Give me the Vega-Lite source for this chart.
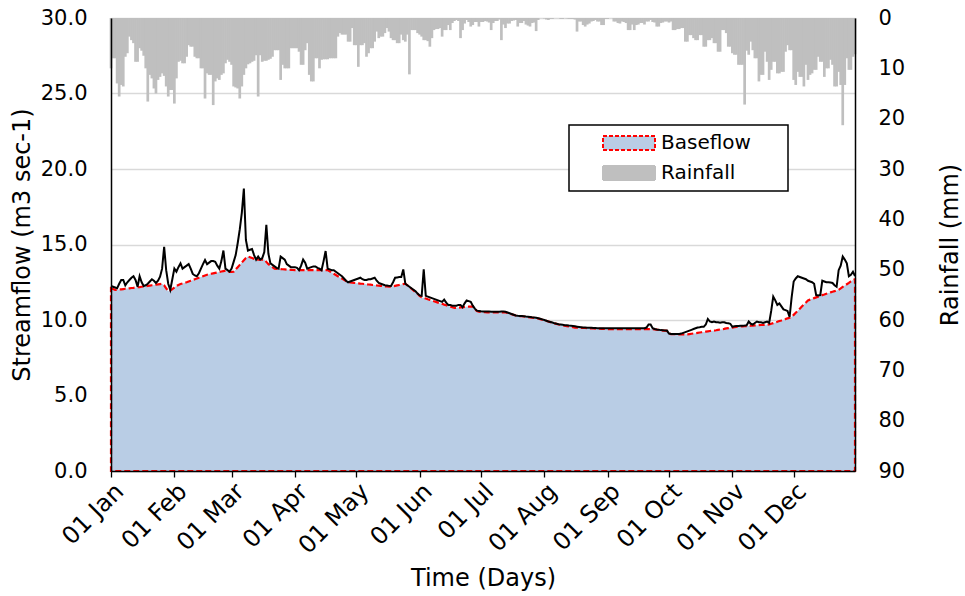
{
"$schema": "https://vega.github.io/schema/vega-lite/v6.json",
"width": 744, "height": 453,
"autosize": "none",
"padding": {"left": 111, "top": 18, "right": 110, "bottom": 125},
"config": {"font": "DejaVu Sans", "view": {"stroke": "#8c8c8c", "strokeWidth": 1}},
"data": {"values": [
{"d":"2001/01/01","q":12.25,"b":12.1,"r":10},{"d":"2001/01/02","q":12.2,"b":12.05,"r":8},{"d":"2001/01/03","q":12.15,"b":12.0,"r":8},{"d":"2001/01/04","q":12.1,"b":12.0,"r":13},{"d":"2001/01/05","q":12.4,"b":12.02,"r":15.6},{"d":"2001/01/06","q":12.65,"b":12.03,"r":13.3},{"d":"2001/01/07","q":12.65,"b":12.05,"r":13.6},{"d":"2001/01/08","q":12.3,"b":12.07,"r":7.7},{"d":"2001/01/09","q":12.5,"b":12.08,"r":7},{"d":"2001/01/10","q":12.65,"b":12.1,"r":3.7},{"d":"2001/01/11","q":12.8,"b":12.12,"r":4.4},{"d":"2001/01/12","q":12.9,"b":12.13,"r":5},{"d":"2001/01/13","q":12.65,"b":12.15,"r":8.7},{"d":"2001/01/14","q":12.2,"b":12.17,"r":8.7},{"d":"2001/01/15","q":12.9,"b":12.18,"r":6},{"d":"2001/01/16","q":12.5,"b":12.2,"r":6.5},{"d":"2001/01/17","q":12.25,"b":12.22,"r":7.5},{"d":"2001/01/18","q":12.3,"b":12.24,"r":10},{"d":"2001/01/19","q":12.4,"b":12.26,"r":16.6},{"d":"2001/01/20","q":12.55,"b":12.28,"r":11.3},{"d":"2001/01/21","q":12.7,"b":12.3,"r":12},{"d":"2001/01/22","q":12.6,"b":12.32,"r":14},{"d":"2001/01/23","q":12.45,"b":12.34,"r":15},{"d":"2001/01/24","q":12.6,"b":12.36,"r":12.3},{"d":"2001/01/25","q":12.87,"b":12.38,"r":11.7},{"d":"2001/01/26","q":13.4,"b":12.4,"r":11},{"d":"2001/01/27","q":14.85,"b":12.3,"r":11.5},{"d":"2001/01/28","q":13.3,"b":12.1,"r":13.6},{"d":"2001/01/29","q":12.4,"b":11.9,"r":15.6},{"d":"2001/01/30","q":12.0,"b":11.95,"r":14.3},{"d":"2001/01/31","q":12.7,"b":12.05,"r":14.3},
{"d":"2001/02/01","q":13.4,"b":12.15,"r":17},{"d":"2001/02/02","q":13.2,"b":12.25,"r":12},{"d":"2001/02/03","q":13.5,"b":12.32,"r":8.7},{"d":"2001/02/04","q":13.75,"b":12.38,"r":8.5},{"d":"2001/02/05","q":13.4,"b":12.42,"r":9},{"d":"2001/02/06","q":13.5,"b":12.46,"r":9},{"d":"2001/02/07","q":13.6,"b":12.5,"r":7.7},{"d":"2001/02/08","q":13.7,"b":12.55,"r":5.4},{"d":"2001/02/09","q":13.4,"b":12.6,"r":5.7},{"d":"2001/02/10","q":13.05,"b":12.65,"r":5.7},{"d":"2001/02/11","q":12.95,"b":12.7,"r":7.7},{"d":"2001/02/12","q":12.9,"b":12.75,"r":8},{"d":"2001/02/13","q":13.1,"b":12.8,"r":8},{"d":"2001/02/14","q":13.4,"b":12.85,"r":10},{"d":"2001/02/15","q":13.7,"b":12.9,"r":10},{"d":"2001/02/16","q":13.97,"b":12.95,"r":16},{"d":"2001/02/17","q":13.7,"b":13.0,"r":11},{"d":"2001/02/18","q":13.8,"b":13.03,"r":11.3},{"d":"2001/02/19","q":13.9,"b":13.06,"r":11.3},{"d":"2001/02/20","q":13.9,"b":13.09,"r":17.3},{"d":"2001/02/21","q":13.85,"b":13.12,"r":12.6},{"d":"2001/02/22","q":13.6,"b":13.15,"r":12},{"d":"2001/02/23","q":13.4,"b":13.18,"r":12.3},{"d":"2001/02/24","q":13.9,"b":13.21,"r":11.3},{"d":"2001/02/25","q":14.6,"b":13.24,"r":11},{"d":"2001/02/26","q":13.4,"b":13.27,"r":9},{"d":"2001/02/27","q":13.3,"b":13.25,"r":8.3},{"d":"2001/02/28","q":13.2,"b":13.18,"r":8.7},
{"d":"2001/03/01","q":13.4,"b":13.18,"r":9.3},{"d":"2001/03/02","q":13.85,"b":13.2,"r":13.6},{"d":"2001/03/03","q":14.3,"b":13.35,"r":13.8},{"d":"2001/03/04","q":15.1,"b":13.5,"r":14},{"d":"2001/03/05","q":16.0,"b":13.65,"r":16},{"d":"2001/03/06","q":17.1,"b":13.8,"r":13.6},{"d":"2001/03/07","q":18.7,"b":13.95,"r":11.3},{"d":"2001/03/08","q":15.3,"b":14.1,"r":10},{"d":"2001/03/09","q":14.6,"b":14.2,"r":9.2},{"d":"2001/03/10","q":14.65,"b":14.15,"r":9},{"d":"2001/03/11","q":14.7,"b":14.1,"r":8.7},{"d":"2001/03/12","q":14.3,"b":14.05,"r":8.5},{"d":"2001/03/13","q":14.0,"b":14.0,"r":7.4},{"d":"2001/03/14","q":14.2,"b":14.0,"r":15.6},{"d":"2001/03/15","q":14.0,"b":14.0,"r":7.4},{"d":"2001/03/16","q":14.1,"b":14.0,"r":8.7},{"d":"2001/03/17","q":14.5,"b":14.0,"r":8.5},{"d":"2001/03/18","q":16.3,"b":13.85,"r":8.5},{"d":"2001/03/19","q":14.4,"b":13.7,"r":8.3},{"d":"2001/03/20","q":13.75,"b":13.6,"r":8.1},{"d":"2001/03/21","q":13.65,"b":13.5,"r":7.7},{"d":"2001/03/22","q":13.55,"b":13.4,"r":6.4},{"d":"2001/03/23","q":13.45,"b":13.39,"r":6.4},{"d":"2001/03/24","q":13.4,"b":13.38,"r":6.4},{"d":"2001/03/25","q":14.2,"b":13.37,"r":12.3},{"d":"2001/03/26","q":14.1,"b":13.36,"r":9.3},{"d":"2001/03/27","q":14.0,"b":13.35,"r":10},{"d":"2001/03/28","q":13.7,"b":13.34,"r":10},{"d":"2001/03/29","q":13.6,"b":13.33,"r":10},{"d":"2001/03/30","q":13.5,"b":13.32,"r":6},{"d":"2001/03/31","q":13.5,"b":13.31,"r":6},
{"d":"2001/04/01","q":13.5,"b":13.3,"r":6},{"d":"2001/04/02","q":13.45,"b":13.3,"r":6},{"d":"2001/04/03","q":13.3,"b":13.3,"r":6.7},{"d":"2001/04/04","q":13.6,"b":13.3,"r":9.3},{"d":"2001/04/05","q":14.0,"b":13.3,"r":9.3},{"d":"2001/04/06","q":13.8,"b":13.3,"r":6.4},{"d":"2001/04/07","q":13.4,"b":13.3,"r":5},{"d":"2001/04/08","q":13.45,"b":13.3,"r":11.3},{"d":"2001/04/09","q":13.5,"b":13.3,"r":12.6},{"d":"2001/04/10","q":13.55,"b":13.3,"r":12.6},{"d":"2001/04/11","q":13.55,"b":13.3,"r":8},{"d":"2001/04/12","q":13.45,"b":13.3,"r":8},{"d":"2001/04/13","q":13.4,"b":13.3,"r":10},{"d":"2001/04/14","q":13.3,"b":13.3,"r":8.3},{"d":"2001/04/15","q":13.9,"b":13.3,"r":8.2},{"d":"2001/04/16","q":14.57,"b":13.3,"r":8.2},{"d":"2001/04/17","q":13.4,"b":13.3,"r":8.2},{"d":"2001/04/18","q":13.35,"b":13.22,"r":8},{"d":"2001/04/19","q":13.3,"b":13.14,"r":8},{"d":"2001/04/20","q":13.3,"b":13.06,"r":8},{"d":"2001/04/21","q":13.2,"b":12.98,"r":8},{"d":"2001/04/22","q":13.1,"b":12.9,"r":3.7},{"d":"2001/04/23","q":13.0,"b":12.82,"r":3},{"d":"2001/04/24","q":12.9,"b":12.74,"r":3.3},{"d":"2001/04/25","q":12.75,"b":12.66,"r":3.3},{"d":"2001/04/26","q":12.6,"b":12.58,"r":3.3},{"d":"2001/04/27","q":12.5,"b":12.5,"r":4.7},{"d":"2001/04/28","q":12.55,"b":12.49,"r":4.7},{"d":"2001/04/29","q":12.6,"b":12.47,"r":2},{"d":"2001/04/30","q":12.65,"b":12.46,"r":5.4},
{"d":"2001/05/01","q":12.7,"b":12.44,"r":5.4},{"d":"2001/05/02","q":12.75,"b":12.43,"r":9.7},{"d":"2001/05/03","q":12.8,"b":12.41,"r":5.4},{"d":"2001/05/04","q":12.7,"b":12.4,"r":5.4},{"d":"2001/05/05","q":12.65,"b":12.38,"r":5},{"d":"2001/05/06","q":12.65,"b":12.37,"r":7.7},{"d":"2001/05/07","q":12.7,"b":12.35,"r":7},{"d":"2001/05/08","q":12.7,"b":12.34,"r":6},{"d":"2001/05/09","q":12.75,"b":12.32,"r":6},{"d":"2001/05/10","q":12.8,"b":12.31,"r":4.7},{"d":"2001/05/11","q":12.6,"b":12.29,"r":2.7},{"d":"2001/05/12","q":12.45,"b":12.28,"r":4},{"d":"2001/05/13","q":12.4,"b":12.26,"r":3.7},{"d":"2001/05/14","q":12.35,"b":12.25,"r":3.7},{"d":"2001/05/15","q":12.3,"b":12.23,"r":3},{"d":"2001/05/16","q":12.28,"b":12.22,"r":2},{"d":"2001/05/17","q":12.26,"b":12.21,"r":2.7},{"d":"2001/05/18","q":12.25,"b":12.2,"r":4},{"d":"2001/05/19","q":12.5,"b":12.23,"r":4.4},{"d":"2001/05/20","q":12.8,"b":12.26,"r":4.4},{"d":"2001/05/21","q":12.82,"b":12.29,"r":5},{"d":"2001/05/22","q":12.84,"b":12.32,"r":5},{"d":"2001/05/23","q":12.85,"b":12.35,"r":3.3},{"d":"2001/05/24","q":13.35,"b":12.38,"r":4.4},{"d":"2001/05/25","q":12.4,"b":12.4,"r":4.7},{"d":"2001/05/26","q":12.3,"b":12.29,"r":3.3},{"d":"2001/05/27","q":12.2,"b":12.18,"r":11.2},{"d":"2001/05/28","q":12.1,"b":12.07,"r":2.4},{"d":"2001/05/29","q":12.0,"b":11.96,"r":2.4},{"d":"2001/05/30","q":11.9,"b":11.85,"r":2.4},{"d":"2001/05/31","q":11.75,"b":11.74,"r":3},
{"d":"2001/06/01","q":11.63,"b":11.6,"r":3.3},{"d":"2001/06/02","q":11.6,"b":11.5,"r":3.7},{"d":"2001/06/03","q":13.35,"b":11.46,"r":4.4},{"d":"2001/06/04","q":11.6,"b":11.42,"r":4.4},{"d":"2001/06/05","q":11.55,"b":11.37,"r":4.6},{"d":"2001/06/06","q":11.5,"b":11.33,"r":5.7},{"d":"2001/06/07","q":11.45,"b":11.28,"r":4},{"d":"2001/06/08","q":11.4,"b":11.24,"r":2.4},{"d":"2001/06/09","q":11.35,"b":11.2,"r":2.2},{"d":"2001/06/10","q":11.3,"b":11.15,"r":2.2},{"d":"2001/06/11","q":11.25,"b":11.11,"r":2},{"d":"2001/06/12","q":11.2,"b":11.07,"r":3.7},{"d":"2001/06/13","q":11.35,"b":11.02,"r":2.4},{"d":"2001/06/14","q":11.15,"b":10.98,"r":2.4},{"d":"2001/06/15","q":11.0,"b":10.93,"r":1.4},{"d":"2001/06/16","q":11.0,"b":10.89,"r":2.4},{"d":"2001/06/17","q":10.95,"b":10.84,"r":1},{"d":"2001/06/18","q":10.95,"b":10.8,"r":0.6},{"d":"2001/06/19","q":10.95,"b":10.81,"r":0.4},{"d":"2001/06/20","q":11.0,"b":10.82,"r":0.6},{"d":"2001/06/21","q":11.0,"b":10.83,"r":4},{"d":"2001/06/22","q":10.85,"b":10.84,"r":2.4},{"d":"2001/06/23","q":11.1,"b":10.86,"r":1.1},{"d":"2001/06/24","q":11.3,"b":10.87,"r":0.4},{"d":"2001/06/25","q":11.25,"b":10.88,"r":0.8},{"d":"2001/06/26","q":11.2,"b":10.89,"r":1.7},{"d":"2001/06/27","q":10.95,"b":10.9,"r":1.4},{"d":"2001/06/28","q":10.75,"b":10.72,"r":0.8},{"d":"2001/06/29","q":10.62,"b":10.6,"r":0.8},{"d":"2001/06/30","q":10.6,"b":10.55,"r":1.7},
{"d":"2001/07/01","q":10.58,"b":10.53,"r":0.8},{"d":"2001/07/02","q":10.57,"b":10.52,"r":0.8},{"d":"2001/07/03","q":10.57,"b":10.52,"r":0.6},{"d":"2001/07/04","q":10.56,"b":10.51,"r":0.7},{"d":"2001/07/05","q":10.56,"b":10.51,"r":0.9},{"d":"2001/07/06","q":10.55,"b":10.5,"r":2.4},{"d":"2001/07/07","q":10.55,"b":10.5,"r":1},{"d":"2001/07/08","q":10.55,"b":10.5,"r":0.6},{"d":"2001/07/09","q":10.55,"b":10.5,"r":0.6},{"d":"2001/07/10","q":10.55,"b":10.5,"r":0.3},{"d":"2001/07/11","q":10.56,"b":10.5,"r":4.4},{"d":"2001/07/12","q":10.56,"b":10.5,"r":1.3},{"d":"2001/07/13","q":10.55,"b":10.5,"r":2},{"d":"2001/07/14","q":10.5,"b":10.46,"r":1.1},{"d":"2001/07/15","q":10.45,"b":10.42,"r":1.1},{"d":"2001/07/16","q":10.4,"b":10.38,"r":0.6},{"d":"2001/07/17","q":10.35,"b":10.34,"r":0.5},{"d":"2001/07/18","q":10.3,"b":10.3,"r":0.4},{"d":"2001/07/19","q":10.28,"b":10.28,"r":1.7},{"d":"2001/07/20","q":10.27,"b":10.26,"r":1},{"d":"2001/07/21","q":10.26,"b":10.25,"r":1},{"d":"2001/07/22","q":10.25,"b":10.23,"r":0.6},{"d":"2001/07/23","q":10.23,"b":10.21,"r":1.3},{"d":"2001/07/24","q":10.22,"b":10.19,"r":1.5},{"d":"2001/07/25","q":10.2,"b":10.17,"r":1.7},{"d":"2001/07/26","q":10.18,"b":10.15,"r":1},{"d":"2001/07/27","q":10.17,"b":10.14,"r":0.9},{"d":"2001/07/28","q":10.15,"b":10.12,"r":2.6},{"d":"2001/07/29","q":10.12,"b":10.1,"r":0.4},{"d":"2001/07/30","q":10.08,"b":10.06,"r":0},{"d":"2001/07/31","q":10.04,"b":10.02,"r":0},
{"d":"2001/08/01","q":10.0,"b":9.98,"r":0.1},{"d":"2001/08/02","q":9.95,"b":9.94,"r":0.3},{"d":"2001/08/03","q":9.9,"b":9.9,"r":0.4},{"d":"2001/08/04","q":9.87,"b":9.86,"r":0.2},{"d":"2001/08/05","q":9.83,"b":9.82,"r":0.2},{"d":"2001/08/06","q":9.78,"b":9.78,"r":0},{"d":"2001/08/07","q":9.75,"b":9.74,"r":0},{"d":"2001/08/08","q":9.72,"b":9.7,"r":0},{"d":"2001/08/09","q":9.7,"b":9.68,"r":0.2},{"d":"2001/08/10","q":9.68,"b":9.65,"r":0.2},{"d":"2001/08/11","q":9.66,"b":9.62,"r":0},{"d":"2001/08/12","q":9.65,"b":9.6,"r":0.1},{"d":"2001/08/13","q":9.63,"b":9.58,"r":0.2},{"d":"2001/08/14","q":9.62,"b":9.55,"r":0.2},{"d":"2001/08/15","q":9.6,"b":9.52,"r":0.2},{"d":"2001/08/16","q":9.58,"b":9.5,"r":0.3},{"d":"2001/08/17","q":9.56,"b":9.49,"r":2.7},{"d":"2001/08/18","q":9.54,"b":9.49,"r":0.7},{"d":"2001/08/19","q":9.52,"b":9.48,"r":0.7},{"d":"2001/08/20","q":9.5,"b":9.47,"r":1.4},{"d":"2001/08/21","q":9.5,"b":9.47,"r":1.7},{"d":"2001/08/22","q":9.49,"b":9.46,"r":1.3},{"d":"2001/08/23","q":9.49,"b":9.45,"r":1.1},{"d":"2001/08/24","q":9.48,"b":9.45,"r":0.7},{"d":"2001/08/25","q":9.47,"b":9.44,"r":0.6},{"d":"2001/08/26","q":9.47,"b":9.43,"r":0.4},{"d":"2001/08/27","q":9.46,"b":9.43,"r":0.7},{"d":"2001/08/28","q":9.46,"b":9.42,"r":0.7},{"d":"2001/08/29","q":9.45,"b":9.41,"r":1.4},{"d":"2001/08/30","q":9.45,"b":9.41,"r":1.4},{"d":"2001/08/31","q":9.45,"b":9.4,"r":0.2},
{"d":"2001/09/01","q":9.45,"b":9.4,"r":0.2},{"d":"2001/09/02","q":9.45,"b":9.4,"r":0},{"d":"2001/09/03","q":9.45,"b":9.4,"r":0},{"d":"2001/09/04","q":9.45,"b":9.4,"r":0.7},{"d":"2001/09/05","q":9.45,"b":9.4,"r":0.7},{"d":"2001/09/06","q":9.45,"b":9.4,"r":1},{"d":"2001/09/07","q":9.45,"b":9.4,"r":1.1},{"d":"2001/09/08","q":9.45,"b":9.4,"r":0.7},{"d":"2001/09/09","q":9.45,"b":9.4,"r":0.8},{"d":"2001/09/10","q":9.45,"b":9.4,"r":1},{"d":"2001/09/11","q":9.45,"b":9.4,"r":2.4},{"d":"2001/09/12","q":9.45,"b":9.4,"r":2.4},{"d":"2001/09/13","q":9.45,"b":9.4,"r":1.3},{"d":"2001/09/14","q":9.45,"b":9.4,"r":2.4},{"d":"2001/09/15","q":9.45,"b":9.4,"r":1.4},{"d":"2001/09/16","q":9.45,"b":9.4,"r":1.3},{"d":"2001/09/17","q":9.45,"b":9.4,"r":1},{"d":"2001/09/18","q":9.45,"b":9.4,"r":1},{"d":"2001/09/19","q":9.45,"b":9.4,"r":1.3},{"d":"2001/09/20","q":9.5,"b":9.4,"r":0.7},{"d":"2001/09/21","q":9.7,"b":9.4,"r":0.7},{"d":"2001/09/22","q":9.7,"b":9.4,"r":0.4},{"d":"2001/09/23","q":9.45,"b":9.4,"r":0.8},{"d":"2001/09/24","q":9.4,"b":9.38,"r":0.9},{"d":"2001/09/25","q":9.37,"b":9.36,"r":1.7},{"d":"2001/09/26","q":9.35,"b":9.34,"r":1.7},{"d":"2001/09/27","q":9.33,"b":9.32,"r":1},{"d":"2001/09/28","q":9.32,"b":9.3,"r":0.9},{"d":"2001/09/29","q":9.31,"b":9.3,"r":0.7},{"d":"2001/09/30","q":9.3,"b":9.28,"r":0.7},
{"d":"2001/10/01","q":9.1,"b":9.1,"r":0.9},{"d":"2001/10/02","q":9.07,"b":9.07,"r":0.7},{"d":"2001/10/03","q":9.07,"b":9.06,"r":2.4},{"d":"2001/10/04","q":9.07,"b":9.06,"r":2.4},{"d":"2001/10/05","q":9.07,"b":9.06,"r":2.2},{"d":"2001/10/06","q":9.07,"b":9.05,"r":2.2},{"d":"2001/10/07","q":9.1,"b":9.05,"r":2},{"d":"2001/10/08","q":9.15,"b":9.05,"r":2},{"d":"2001/10/09","q":9.2,"b":9.05,"r":4.7},{"d":"2001/10/10","q":9.25,"b":9.05,"r":4.7},{"d":"2001/10/11","q":9.3,"b":9.07,"r":3.4},{"d":"2001/10/12","q":9.35,"b":9.09,"r":3.4},{"d":"2001/10/13","q":9.4,"b":9.11,"r":4},{"d":"2001/10/14","q":9.45,"b":9.13,"r":4.4},{"d":"2001/10/15","q":9.5,"b":9.15,"r":4.4},{"d":"2001/10/16","q":9.52,"b":9.17,"r":3.4},{"d":"2001/10/17","q":9.55,"b":9.19,"r":3.4},{"d":"2001/10/18","q":9.55,"b":9.21,"r":5.7},{"d":"2001/10/19","q":9.7,"b":9.23,"r":5.7},{"d":"2001/10/20","q":10.07,"b":9.25,"r":4.4},{"d":"2001/10/21","q":9.9,"b":9.27,"r":4.4},{"d":"2001/10/22","q":9.85,"b":9.28,"r":4},{"d":"2001/10/23","q":9.9,"b":9.3,"r":5},{"d":"2001/10/24","q":9.85,"b":9.32,"r":5},{"d":"2001/10/25","q":9.85,"b":9.35,"r":6.7},{"d":"2001/10/26","q":9.82,"b":9.37,"r":6.7},{"d":"2001/10/27","q":9.85,"b":9.39,"r":2.4},{"d":"2001/10/28","q":9.85,"b":9.41,"r":2.4},{"d":"2001/10/29","q":9.8,"b":9.44,"r":3},{"d":"2001/10/30","q":9.78,"b":9.46,"r":5.7},{"d":"2001/10/31","q":9.75,"b":9.48,"r":5.7},
{"d":"2001/11/01","q":9.55,"b":9.5,"r":7},{"d":"2001/11/02","q":9.58,"b":9.53,"r":7.3},{"d":"2001/11/03","q":9.6,"b":9.55,"r":7.3},{"d":"2001/11/04","q":9.6,"b":9.56,"r":9.3},{"d":"2001/11/05","q":9.62,"b":9.57,"r":9.3},{"d":"2001/11/06","q":9.62,"b":9.58,"r":9.3},{"d":"2001/11/07","q":9.63,"b":9.59,"r":17.2},{"d":"2001/11/08","q":9.65,"b":9.6,"r":6.5},{"d":"2001/11/09","q":9.9,"b":9.61,"r":7.3},{"d":"2001/11/10","q":9.75,"b":9.62,"r":4.7},{"d":"2001/11/11","q":9.7,"b":9.63,"r":6.4},{"d":"2001/11/12","q":9.8,"b":9.64,"r":8},{"d":"2001/11/13","q":9.9,"b":9.65,"r":8},{"d":"2001/11/14","q":9.85,"b":9.66,"r":12.6},{"d":"2001/11/15","q":9.85,"b":9.67,"r":11.3},{"d":"2001/11/16","q":9.8,"b":9.67,"r":11.3},{"d":"2001/11/17","q":9.85,"b":9.68,"r":6.7},{"d":"2001/11/18","q":9.9,"b":9.69,"r":8.7},{"d":"2001/11/19","q":9.8,"b":9.7,"r":12.3},{"d":"2001/11/20","q":10.6,"b":9.75,"r":10.3},{"d":"2001/11/21","q":11.55,"b":9.79,"r":8.7},{"d":"2001/11/22","q":11.3,"b":9.84,"r":8.7},{"d":"2001/11/23","q":11.0,"b":9.88,"r":11},{"d":"2001/11/24","q":11.1,"b":9.93,"r":11},{"d":"2001/11/25","q":10.9,"b":9.97,"r":10.7},{"d":"2001/11/26","q":10.7,"b":10.02,"r":10.7},{"d":"2001/11/27","q":10.65,"b":10.06,"r":6.7},{"d":"2001/11/28","q":10.6,"b":10.11,"r":5.4},{"d":"2001/11/29","q":10.2,"b":10.15,"r":6.4},{"d":"2001/11/30","q":11.5,"b":10.2,"r":6.4},
{"d":"2001/12/01","q":12.55,"b":10.34,"r":12.3},{"d":"2001/12/02","q":12.75,"b":10.48,"r":13.3},{"d":"2001/12/03","q":12.9,"b":10.61,"r":10.7},{"d":"2001/12/04","q":12.85,"b":10.75,"r":11.7},{"d":"2001/12/05","q":12.8,"b":10.89,"r":11.7},{"d":"2001/12/06","q":12.75,"b":11.03,"r":13.6},{"d":"2001/12/07","q":12.7,"b":11.16,"r":9.3},{"d":"2001/12/08","q":12.6,"b":11.3,"r":12.3},{"d":"2001/12/09","q":12.55,"b":11.35,"r":11.3},{"d":"2001/12/10","q":12.5,"b":11.4,"r":11},{"d":"2001/12/11","q":12.4,"b":11.45,"r":10.3},{"d":"2001/12/12","q":11.65,"b":11.5,"r":10.3},{"d":"2001/12/13","q":11.62,"b":11.55,"r":7.7},{"d":"2001/12/14","q":11.65,"b":11.6,"r":8.7},{"d":"2001/12/15","q":12.6,"b":11.65,"r":8.7},{"d":"2001/12/16","q":12.55,"b":11.69,"r":11.7},{"d":"2001/12/17","q":12.5,"b":11.74,"r":10},{"d":"2001/12/18","q":12.5,"b":11.78,"r":10},{"d":"2001/12/19","q":12.48,"b":11.83,"r":8.3},{"d":"2001/12/20","q":12.45,"b":11.87,"r":9.3},{"d":"2001/12/21","q":12.3,"b":11.91,"r":13.6},{"d":"2001/12/22","q":12.2,"b":11.96,"r":13.6},{"d":"2001/12/23","q":13.3,"b":12.0,"r":10.7},{"d":"2001/12/24","q":13.6,"b":12.09,"r":13.3},{"d":"2001/12/25","q":14.2,"b":12.19,"r":21.3},{"d":"2001/12/26","q":14.0,"b":12.28,"r":13.3},{"d":"2001/12/27","q":13.75,"b":12.37,"r":8},{"d":"2001/12/28","q":12.9,"b":12.46,"r":10.3},{"d":"2001/12/29","q":13.0,"b":12.56,"r":10.3},{"d":"2001/12/30","q":13.2,"b":12.65,"r":7.7},{"d":"2001/12/31","q":12.9,"b":12.7,"r":7.2}
]},
"encoding": {
  "x": {"field": "d", "type": "temporal",
    "scale": {"domain": [{"year": 2001, "month": 1, "date": 1}, {"year": 2001, "month": 12, "date": 31}], "padding": 0},
    "axis": {"title": "Time (Days)", "format": "%d %b", "labelAngle": -45, "labelOverlap": false,
      "values": [{"year":2001,"month":1,"date":1},{"year":2001,"month":2,"date":1},{"year":2001,"month":3,"date":1},{"year":2001,"month":4,"date":1},{"year":2001,"month":5,"date":1},{"year":2001,"month":6,"date":1},{"year":2001,"month":7,"date":1},{"year":2001,"month":8,"date":1},{"year":2001,"month":9,"date":1},{"year":2001,"month":10,"date":1},{"year":2001,"month":11,"date":1},{"year":2001,"month":12,"date":1}],
      "grid": false, "ticks": true, "tickSize": 6, "tickColor": "black", "tickWidth": 1.3,
      "domainColor": "black", "domainWidth": 1.5, "labelFontSize": 24, "labelColor": "black",
      "labelPadding": 2, "titleFontSize": 24, "titleFontWeight": "normal", "titleColor": "black", "titlePadding": 8, "zindex": 1}}
},
"layer": [
  {"mark": {"type": "bar", "width": 2.7},
   "encoding": {
     "y": {"field": "r", "type": "quantitative", "scale": {"domain": [0, 90], "reverse": true},
       "axis": {"orient": "right", "title": "Rainfall (mm)", "values": [0,10,20,30,40,50,60,70,80,90],
         "grid": false, "ticks": false, "domainColor": "black", "domainWidth": 1.5,
         "labelFontSize": 21, "labelColor": "black", "labelPadding": 23,
         "titleFontSize": 24, "titleFontWeight": "normal", "titleColor": "black", "titleAngle": 270, "titlePadding": 58, "zindex": 1}},
     "color": {"datum": "Rainfall", "type": "nominal",
       "scale": {"domain": ["Baseflow", "Rainfall"], "range": ["#b9cde5", "#bfbfbf"]},
       "legend": {"title": null, "orient": "none", "legendX": 458, "legendY": 107,
         "symbolType": "M-1,-0.7H4.2V0.7H-1Z", "symbolSize": 400, "symbolStrokeWidth": 2,
         "labelFontSize": 20, "labelColor": "black", "labelOffset": 37, "padding": 7, "rowPadding": 8,
         "symbolOffset": 26, "strokeColor": "black", "fillColor": "white",
         "labelExpr": "datum.label + '\u2800\u2800'",
         "encode": {"symbols": {"update": {
             "fill": {"signal": "datum.value === 'Baseflow' ? '#b9cde5' : '#d9d9d9'"},
             "stroke": {"signal": "datum.value === 'Baseflow' ? '#ff0000' : '#bfbfbf'"},
             "strokeDash": {"signal": "datum.value === 'Baseflow' ? [4,2] : [1,0]"},
             "strokeWidth": {"value": 2}, "opacity": {"value": 1}}},
           "legend": {"update": {"strokeWidth": {"value": 1.5}}}}}}
   }},
  {"mark": {"type": "area", "stroke": "#ff0000", "strokeDash": [6, 3], "strokeWidth": 2.2, "opacity": 1},
   "encoding": {
     "y": {"field": "b", "type": "quantitative", "scale": {"domain": [0, 30]},
       "axis": {"title": "Streamflow (m3 sec-1)", "values": [0,5,10,15,20,25,30], "format": ".1f",
         "grid": true, "gridColor": "#d9d9d9", "gridWidth": 1.3, "ticks": false, "domain": false,
         "labelFontSize": 21, "labelColor": "black", "labelPadding": 24,
         "titleFontSize": 24, "titleFontWeight": "normal", "titleColor": "black", "titlePadding": 6}},
     "color": {"datum": "Baseflow", "type": "nominal"}
   }},
  {"mark": {"type": "line", "color": "black", "strokeWidth": 2},
   "encoding": {
     "y": {"field": "q", "type": "quantitative", "scale": {"domain": [0, 30]},
       "axis": {"title": null, "labels": false, "ticks": false, "grid": false, "domain": true,
         "domainColor": "black", "domainWidth": 1.5, "zindex": 1}}
   }}
],
"resolve": {"scale": {"y": "independent"}}
}
